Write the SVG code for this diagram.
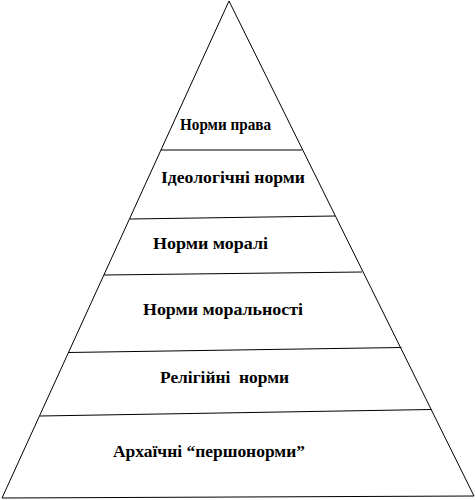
<svg xmlns="http://www.w3.org/2000/svg" width="475" height="500" viewBox="0 0 475 500">
  <style>
    .edge { fill: none; stroke: #000; stroke-width: 1; }
    .sep { fill: none; stroke: #000; stroke-width: 1; }
    .lbl { font-family: "Liberation Serif", "Times New Roman", serif; font-weight: bold; font-size: 17px; fill: #000; }
  </style>
  <rect width="475" height="500" fill="#fff"/>
  <g id="pyramid">
    <polygon class="edge" points="229,1 2,498 474,496"/>
    <line class="sep" x1="161" y1="150" x2="302" y2="150"/>
    <line class="sep" x1="130" y1="219" x2="335" y2="216"/>
    <line class="sep" x1="104" y1="275" x2="362" y2="272"/>
    <line class="sep" x1="68" y1="352.5" x2="401.5" y2="347.5"/>
    <line class="sep" x1="40" y1="416" x2="431.5" y2="409.5"/>
  </g>
  <g id="layer-pravo"><text class="lbl" x="180" y="130" textLength="91" lengthAdjust="spacingAndGlyphs">Норми права</text></g>
  <g id="layer-ideolohichni"><text class="lbl" x="161" y="183" textLength="144" lengthAdjust="spacingAndGlyphs">Ідеологічні норми</text></g>
  <g id="layer-morali"><text class="lbl" x="153" y="249" textLength="115" lengthAdjust="spacingAndGlyphs">Норми моралі</text></g>
  <g id="layer-moralnosti"><text class="lbl" x="143" y="315" textLength="160" lengthAdjust="spacingAndGlyphs">Норми моральності</text></g>
  <g id="layer-relihiini"><text class="lbl" x="160" y="383" textLength="129" lengthAdjust="spacingAndGlyphs" xml:space="preserve">Релігійні  норми</text></g>
  <g id="layer-arkhaichni"><text class="lbl" x="113" y="457" textLength="192" lengthAdjust="spacingAndGlyphs">Архаїчні “першонорми”</text></g>
</svg>
